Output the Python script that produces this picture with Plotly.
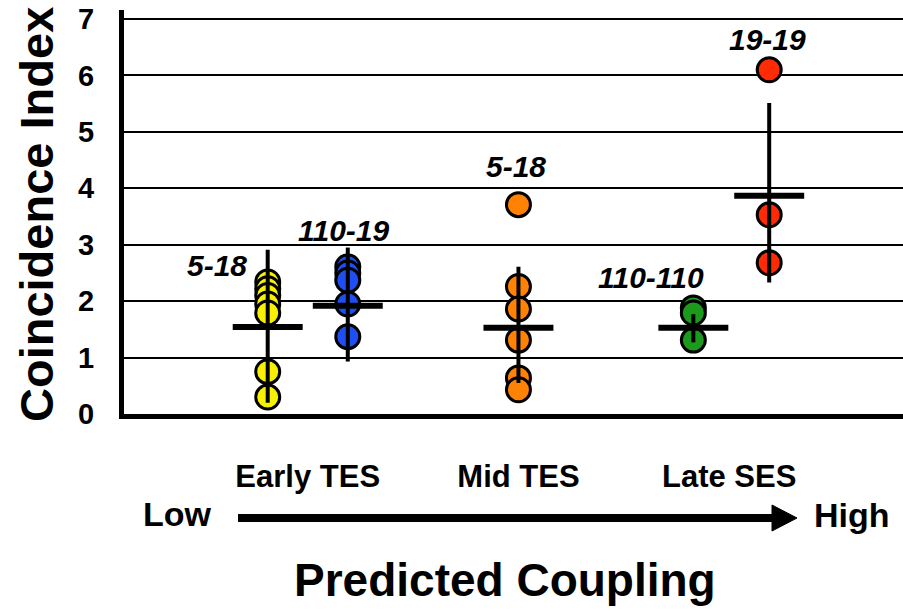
import plotly.graph_objects as go

# ---- data ----
groups = ["Early TES", "Mid TES", "Late SES"]
group_pos = [1, 2, 3]

series_names = ["5-18 early", "110-19 early", "5-18 mid", "110-110 late", "19-19 late"]
series_labels = ["5-18", "110-19", "5-18", "110-110", "19-19"]
series_x = [0.81, 1.19, 2.0, 2.83, 3.19]
series_colors = ["#F7F000", "#1F4FF2", "#FF8205", "#1C9A1C", "#FF2B05"]

vals_yellow = [2.34, 2.22, 2.10, 1.95, 1.79, 0.75, 0.30]
vals_blue = [2.61, 2.50, 2.37, 1.95, 1.37]
vals_orange = [3.71, 2.26, 1.86, 1.31, 0.64, 0.43]
vals_green = [1.88, 1.79, 1.31]
vals_red = [6.10, 3.53, 2.68]
series_vals = [vals_yellow, vals_blue, vals_orange, vals_green, vals_red]

means = [1.54, 1.92, 1.53, 1.53, 3.87]
err_high = [2.91, 2.95, 2.61, 1.77, 5.51]
err_low = [0.20, 0.93, 0.55, 1.27, 2.33]
label_y = [2.63, 3.26, 4.38, 2.42, 6.63]
label_dx = [-0.24, -0.02, -0.01, -0.2, -0.01]

yticks = [0, 1, 2, 3, 4, 5, 6, 7]

FONT = "Liberation Sans, Arial, sans-serif"
MEAN_HALF = 0.166

fig = go.Figure()

# points
for name, x, vals, col in zip(series_names, series_x, series_vals, series_colors):
    fig.add_trace(go.Scatter(
        x=[x] * len(vals), y=vals, mode="markers", name=name,
        marker=dict(size=24, color=col, line=dict(color="black", width=3)),
        showlegend=False, hoverinfo="y"))

# error bars (vertical) drawn over points
ex, ey = [], []
for x, lo, hi in zip(series_x, err_low, err_high):
    ex += [x, x, None]
    ey += [lo, hi, None]
fig.add_trace(go.Scatter(x=ex, y=ey, mode="lines",
                         line=dict(color="black", width=4),
                         showlegend=False, hoverinfo="skip"))

# mean bars
mx, my = [], []
for x, m in zip(series_x, means):
    mx += [x - MEAN_HALF, x + MEAN_HALF, None]
    my += [m, m, None]
fig.add_trace(go.Scatter(x=mx, y=my, mode="lines",
                         line=dict(color="black", width=6),
                         showlegend=False, hoverinfo="skip"))

annotations = []
for x, lab, ly, dx in zip(series_x, series_labels, label_y, label_dx):
    annotations.append(dict(
        x=x + dx, y=ly, xref="x", yref="y", text="<b><i>%s</i></b>" % lab,
        xanchor="center", yanchor="middle",
        showarrow=False, font=dict(family=FONT, size=30, color="black")))

W, H = 903, 613
L, T, R, B = 124, 10, 0, 199
PW, PH = W - L - R, H - T - B

def px(v):
    return (v - L) / PW

def py(v):
    return (H - B - v) / PH

annotations += [
    dict(x=px(177), y=py(514), xref="paper", yref="paper", text="<b>Low</b>",
         xanchor="center", yanchor="middle",
         showarrow=False, font=dict(family=FONT, size=34, color="black")),
    dict(x=px(852), y=py(515), xref="paper", yref="paper", text="<b>High</b>",
         xanchor="center", yanchor="middle",
         showarrow=False, font=dict(family=FONT, size=34, color="black")),
    dict(x=px(505), y=py(580), xref="paper", yref="paper",
         text="<b>Predicted Coupling</b>", xanchor="center", yanchor="middle",
         showarrow=False, font=dict(family=FONT, size=46, color="black")),
    dict(x=px(36), y=py(215), xref="paper", yref="paper",
         text="<b>Coincidence Index</b>", textangle=-90,
         xanchor="center", yanchor="middle",
         showarrow=False, font=dict(family=FONT, size=47, color="black")),
]

shapes = [
    dict(type="line", xref="paper", yref="paper",
         x0=px(238), x1=px(778), y0=py(518), y1=py(518),
         line=dict(color="black", width=8)),
    dict(type="path", xref="paper", yref="paper",
         path="M %f %f L %f %f L %f %f Z" % (px(772), py(505), px(797), py(518), px(772), py(531)),
         fillcolor="black", line=dict(color="black", width=1)),
]

fig.update_layout(
    width=W, height=H,
    margin=dict(l=L, r=R, t=T, b=B),
    plot_bgcolor="white", paper_bgcolor="white",
    showlegend=False,
    annotations=annotations, shapes=shapes,
    xaxis=dict(range=[0.128, 3.825], tickvals=group_pos,
               ticktext=["<b>%s</b>" % g for g in groups],
               tickfont=dict(family=FONT, size=31, color="black"),
               showgrid=False, zeroline=False, showline=True,
               linecolor="black", linewidth=5, ticks="",
               ticklabelstandoff=31),
    yaxis=dict(range=[0, 7.16], tickvals=yticks,
               ticktext=["<b>%d</b>" % t for t in yticks],
               tickfont=dict(family=FONT, size=29, color="black"),
               showgrid=True, gridcolor="black", gridwidth=2,
               zeroline=False, showline=True, linecolor="black", linewidth=5,
               ticks="", ticklabelstandoff=19),
)

fig.write_html("out.html")
